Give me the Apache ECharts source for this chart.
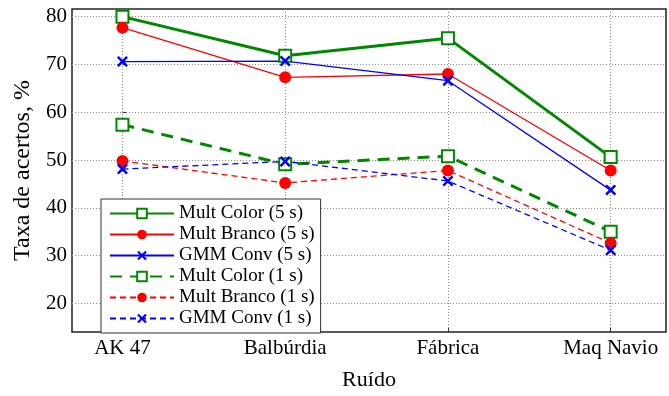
<!DOCTYPE html>
<html>
<head>
<meta charset="utf-8">
<script src="https://cdn.jsdelivr.net/npm/echarts@6/dist/echarts.min.js"></script>
<style>
  html, body { margin: 0; padding: 0; background: #fff; }
  #chart { width: 669px; height: 396px; }
</style>
</head>
<body>
<div id="chart"></div>
<script>
// categorias (ruído)
var ruidos = ['AK 47', 'Balbúrdia', 'Fábrica', 'Maq Navio'];
var yTicks = [20, 30, 40, 50, 60, 70, 80];

// taxa de acertos, %
var multColor5 = [80.0, 71.8, 75.5, 50.6];
var multBranco5 = [77.7, 67.3, 68.0, 47.8];
var gmmConv5 = [70.6, 70.7, 66.6, 43.7];
var multColor1 = [57.4, 49.1, 50.8, 35.0];
var multBranco1 = [49.8, 45.2, 47.8, 32.6];
var gmmConv1 = [48.1, 49.7, 45.6, 31.1];

var serif = "'Liberation Serif', 'Times New Roman', 'DejaVu Serif', serif";
var xSymbol = 'path://M0,1.6L1.6,0L5,3.4L8.4,0L10,1.6L6.6,5L10,8.4L8.4,10L5,6.6L1.6,10L0,8.4L3.4,5Z';

function pares(arr) {
    return arr.map(function (v, i) { return [i, v]; });
}

function serie(nome, dados, cor, largura, simbolo, tam, dash) {
    var vazio = simbolo == 'rect';
    return {
        name: nome,
        type: 'line',
        data: pares(dados),
        symbol: simbolo,
        symbolSize: tam,
        showAllSymbol: true,
        lineStyle: { color: cor, width: largura, type: dash ? dash : 'solid' },
        itemStyle: vazio
            ? { color: '#fff', borderColor: cor, borderWidth: 2 }
            : { color: cor, borderWidth: 0 },
        animation: false
    };
}

var chart = echarts.init(document.getElementById('chart'));

var option = {
    backgroundColor: '#fff',
    textStyle: { fontFamily: serif },
    grid: {
        left: 72, right: 3, top: 9, bottom: 56,
        show: true, borderColor: '#222', borderWidth: 1.5
    },
    legend: {
        orient: 'vertical',
        left: 101, top: 199,
        backgroundColor: '#fff',
        borderColor: '#333', borderWidth: 1,
        borderRadius: 0,
        padding: [5, 6, 5, 8],
        itemWidth: 64, itemHeight: 12,
        itemGap: 2,
        textStyle: { fontFamily: serif, fontSize: 19, color: '#000' },
        data: ['Mult Color (5 s)', 'Mult Branco (5 s)', 'GMM Conv (5 s)',
               'Mult Color (1 s)', 'Mult Branco (1 s)', 'GMM Conv (1 s)']
    },
    xAxis: {
        type: 'value',
        min: -0.31, max: 3.34,
        name: 'Ruído',
        nameLocation: 'middle',
        nameGap: 37,
        nameTextStyle: { fontFamily: serif, fontSize: 22, color: '#000' },
        axisLine: { show: false },
        axisTick: { show: true, inside: true, length: 4, customValues: [0, 1, 2, 3],
                    lineStyle: { color: '#333' } },
        axisLabel: {
            customValues: [0, 1, 2, 3],
            formatter: function (v) { return ruidos[Math.round(v)]; },
            fontFamily: serif, fontSize: 21, color: '#000', margin: 6
        },
        splitLine: { show: true, lineStyle: { color: '#888', type: [1, 2], width: 1 } }
    },
    yAxis: {
        type: 'value',
        min: 14, max: 81.6,
        name: 'Taxa de acertos, %',
        nameLocation: 'middle',
        nameGap: 36,
        nameTextStyle: { fontFamily: serif, fontSize: 24, color: '#000' },
        axisLine: { show: false },
        axisTick: { show: true, inside: true, length: 4, customValues: yTicks,
                    lineStyle: { color: '#333' } },
        axisLabel: {
            customValues: yTicks,
            fontFamily: serif, fontSize: 21, color: '#000', margin: 5
        },
        splitLine: { show: true, lineStyle: { color: '#888', type: [1, 2], width: 1 } }
    },
    series: [
        serie('Mult Color (5 s)', multColor5, '#008800', 3, 'rect', 12),
        serie('Mult Branco (5 s)', multBranco5, '#ff0000', 1.3, 'circle', 12),
        serie('GMM Conv (5 s)', gmmConv5, '#0000ff', 1.3, xSymbol, 11),
        serie('Mult Color (1 s)', multColor1, '#008800', 3, 'rect', 12, [12, 8]),
        serie('Mult Branco (1 s)', multBranco1, '#ff0000', 1.3, 'circle', 12, [6, 4]),
        serie('GMM Conv (1 s)', gmmConv1, '#0000ff', 1.3, xSymbol, 11, [6, 4])
    ]
};

chart.setOption(option);
</script>
</body>
</html>
